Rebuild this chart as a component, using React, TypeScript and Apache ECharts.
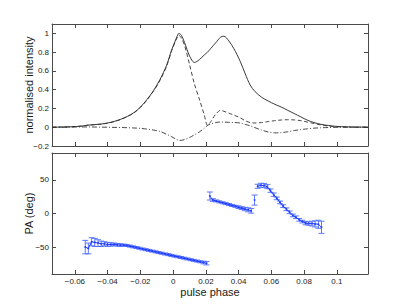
import React, { useEffect, useRef } from "react";
import * as echarts from "echarts";

// ---- Top panel: intensity profiles ----
const profilePhase = [
  -0.074, -0.068, -0.062, -0.056, -0.052, -0.048, -0.044, -0.04, -0.036, -0.032, -0.028, -0.024,
  -0.02, -0.016, -0.012, -0.008, -0.004, -0.001, 0.002, 0.0035, 0.005, 0.007, 0.01, 0.013, 0.016,
  0.019, 0.021, 0.023, 0.026, 0.029, 0.031, 0.034, 0.037, 0.041, 0.044, 0.047, 0.05, 0.054, 0.058,
  0.062, 0.066, 0.07, 0.074, 0.078, 0.082, 0.086, 0.09, 0.095, 0.1, 0.106, 0.112, 0.119,
];
const totalIntensity = [
  0, 0.002, 0.005, 0.012, 0.022, 0.028, 0.034, 0.045, 0.062, 0.085, 0.115, 0.155,
  0.215, 0.295, 0.39, 0.51, 0.66, 0.82, 0.95, 1.0, 0.98, 0.9, 0.76, 0.69, 0.72,
  0.77, 0.8, 0.84, 0.9, 0.96, 0.97, 0.92, 0.84, 0.7, 0.57, 0.45, 0.38, 0.32, 0.28,
  0.245, 0.215, 0.18, 0.145, 0.11, 0.075, 0.05, 0.032, 0.018, 0.009, 0.004, 0.002, 0.001,
];
const linearIntensity = [
  0, 0.002, 0.005, 0.012, 0.022, 0.027, 0.033, 0.044, 0.06, 0.083, 0.113, 0.152,
  0.21, 0.29, 0.385, 0.5, 0.65, 0.81, 0.94, 0.98, 0.95, 0.87, 0.67, 0.46, 0.3,
  0.13, 0.02, 0.06, 0.14, 0.18, 0.17, 0.15, 0.13, 0.1, 0.07, 0.05, 0.045, 0.05, 0.06,
  0.07, 0.077, 0.08, 0.078, 0.07, 0.055, 0.04, 0.025, 0.012, 0.005, 0.002, 0.001, 0,
];
const circularIntensity = [
  0, 0, 0.002, 0.003, 0.003, 0.002, 0.001, 0, -0.002, -0.003, -0.005, -0.008,
  -0.012, -0.02, -0.03, -0.045, -0.075, -0.1, -0.13, -0.14, -0.14, -0.13, -0.11, -0.08, -0.05,
  -0.01, 0.02, 0.035, 0.05, 0.055, 0.055, 0.052, 0.05, 0.045, 0.03, 0.015, -0.005, -0.03, -0.05,
  -0.06, -0.058, -0.048, -0.035, -0.025, -0.017, -0.01, -0.006, -0.003, -0.001, 0, 0, 0,
];

// ---- Bottom panel: position angle ----
const paPhase = [
  -0.0537, -0.0518, -0.0498, -0.0479, -0.0459, -0.044, -0.042, -0.0401, -0.0381, -0.0362,
  -0.0342, -0.0323, -0.0303, -0.0284, -0.0264, -0.0245, -0.0225, -0.0206, -0.0186, -0.0167,
  -0.0147, -0.0128, -0.0108, -0.0089, -0.0069, -0.005, -0.003, -0.0011, 0.0009, 0.0029,
  0.0048, 0.0068, 0.0087, 0.0107, 0.0126, 0.0146, 0.0165, 0.0185, 0.0204,
  0.0224, 0.0243, 0.0263, 0.0282, 0.0302, 0.0321, 0.0341, 0.036, 0.038, 0.0399, 0.0419,
  0.0438, 0.0458, 0.0477,
  0.0497,
  0.0516, 0.0536, 0.0555, 0.0575, 0.0594, 0.0614, 0.0633, 0.0653, 0.0672, 0.0692, 0.0711,
  0.0731, 0.075, 0.077, 0.0789, 0.0809, 0.0828, 0.0848, 0.0867, 0.0887, 0.0906,
];
const paDeg = [
  -50, -52, -42, -43, -44, -45, -45, -46, -46, -46,
  -46.5, -47, -47, -47.5, -48.5, -49.6, -50.6, -51.7, -52.8, -53.8,
  -54.9, -55.9, -57, -58.1, -59.1, -60.2, -61.2, -62.3, -63.4, -64.4,
  -65.5, -66.5, -67.6, -68.7, -69.7, -70.8, -71.8, -72.9, -74,
  26, 20, 18.7, 17.3, 16, 14.7, 13.3, 12, 10.7, 9.4, 8,
  6.7, 5.5, 4,
  20,
  40.5, 42, 41.5, 40, 34, 28, 22.5, 16.5, 11, 6.3, 1.8,
  -2.9, -5.6, -9.4, -12, -14.3, -15, -15, -15.5, -16, -20.5,
];
const paErr = [
  10, 8, 6, 6, 5, 4, 3, 3, 2.5, 2,
  2, 2, 1.5, 1.5, 1.5, 1.5, 1.5, 1.5, 1.5, 1.5,
  1.5, 1.5, 1.5, 1.5, 1.5, 1.5, 1.5, 1.5, 1.5, 1.5,
  1.5, 1.5, 1.5, 1.5, 1.5, 1.5, 1.5, 2, 2.5,
  6, 2, 1.5, 1.5, 1.5, 1.5, 1.5, 1.5, 1.5, 2, 2,
  2.5, 3, 3.5,
  7.5,
  3, 3, 3, 3, 2.5, 2.5, 2, 2, 2, 2, 2,
  2, 2, 2, 2, 2.5, 2.5, 3.5, 4.5, 6, 9,
];
const paSegmentStarts = [0, 39, 53, 54];

// ---- Axes ----
const phaseMin = -0.074;
const phaseMax = 0.119;
const phaseTicks = [-0.06, -0.04, -0.02, 0, 0.02, 0.04, 0.06, 0.08, 0.1];
const phaseTickLabels = ["\u22120.06", "\u22120.04", "\u22120.02", "0", "0.02", "0.04", "0.06", "0.08", "0.1"];
const intensityTicks = [-0.2, 0, 0.2, 0.4, 0.6, 0.8, 1];
const intensityTickLabels = ["\u22120.2", "0", "0.2", "0.4", "0.6", "0.8", "1"];
const paTicks = [-50, 0, 50];
const paTickLabels = ["\u221250", "0", "50"];

const FONT = "'Liberation Sans', Arial, Helvetica, sans-serif";
const AXIS_COLOR = "#4a4a4a";
const TEXT_COLOR = "#1a1a1a";
const PA_LINE = "#1f3cff";
const PA_BAR = "#4d6bff";

function labelFor(values: number[], labels: string[]) {
  return (v: number) => {
    let best = -1;
    let d = Infinity;
    values.forEach((t, i) => {
      const dd = Math.abs(t - v);
      if (dd < d) {
        d = dd;
        best = i;
      }
    });
    return d < 1e-6 ? labels[best] : "";
  };
}

function makeAxis(
  gridIndex: number,
  position: string,
  min: number,
  max: number,
  ticks: number[],
  labels: string[] | null,
  extra: any = {}
) {
  return {
    type: "value",
    gridIndex,
    position,
    min,
    max,
    nameMoveOverlap: false,
    axisLine: { show: true, onZero: false, lineStyle: { color: AXIS_COLOR, width: 1 } },
    axisTick: { show: true, inside: true, length: 4, customValues: ticks, lineStyle: { color: AXIS_COLOR, width: 1 } },
    axisLabel: labels
      ? {
          show: true,
          customValues: ticks,
          formatter: labelFor(ticks, labels),
          fontFamily: FONT,
          fontSize: 8,
          color: TEXT_COLOR,
          margin: 3,
        }
      : { show: false },
    splitLine: { show: false },
    ...extra,
  };
}

export default function App() {
  const ref = useRef<HTMLDivElement>(null);

  useEffect(() => {
    if (!ref.current) return;
    const chart = echarts.init(ref.current, null, { renderer: "svg" });

    const nameStyle = { fontFamily: FONT, fontSize: 11, color: TEXT_COLOR };

    const profileData = (vals: number[]) => profilePhase.map((x, i) => [x, vals[i]]);

    const segSeries: any[] = paSegmentStarts.map((start, k) => {
      const end = k + 1 < paSegmentStarts.length ? paSegmentStarts[k + 1] : paPhase.length;
      const data: number[][] = [];
      for (let i = start; i < end; i++) data.push([paPhase[i], paDeg[i]]);
      return {
        type: "line",
        xAxisIndex: 2,
        yAxisIndex: 2,
        data,
        showSymbol: true,
        symbol: "circle",
        symbolSize: 1.8,
        itemStyle: { color: PA_LINE },
        lineStyle: { color: PA_LINE, width: 1 },
        silent: true,
        z: 3,
      };
    });

    const errData = paPhase.map((x, i) => [x, paDeg[i] - paErr[i], paDeg[i] + paErr[i]]);

    const option: any = {
      animation: false,
      grid: [
        { left: 52, right: 39, top: 24, height: 122 },
        { left: 52, right: 39, top: 153, height: 121 },
      ],
      xAxis: [
        makeAxis(0, "bottom", phaseMin, phaseMax, phaseTicks, null),
        makeAxis(0, "top", phaseMin, phaseMax, phaseTicks, null),
        makeAxis(1, "bottom", phaseMin, phaseMax, phaseTicks, phaseTickLabels, {
          name: "pulse phase",
          nameLocation: "middle",
          nameGap: 12,
          nameTextStyle: nameStyle,
        }),
        makeAxis(1, "top", phaseMin, phaseMax, phaseTicks, null),
      ],
      yAxis: [
        makeAxis(0, "left", -0.2, 1.1, intensityTicks, intensityTickLabels, {
          name: "normalised intensity",
          nameLocation: "middle",
          nameGap: 18,
          nameRotate: 90,
          nameTextStyle: nameStyle,
        }),
        makeAxis(0, "right", -0.2, 1.1, intensityTicks, null),
        makeAxis(1, "left", -90, 90, paTicks, paTickLabels, {
          name: "PA (deg)",
          nameLocation: "middle",
          nameGap: 18,
          nameRotate: 90,
          nameTextStyle: nameStyle,
        }),
        makeAxis(1, "right", -90, 90, paTicks, null),
      ],
      series: [
        {
          type: "line",
          xAxisIndex: 0,
          yAxisIndex: 0,
          data: profileData(totalIntensity),
          smooth: 0.3,
          showSymbol: false,
          lineStyle: { color: "#222", width: 0.9, type: "solid" },
          silent: true,
        },
        {
          type: "line",
          xAxisIndex: 0,
          yAxisIndex: 0,
          data: profileData(linearIntensity),
          smooth: 0.3,
          showSymbol: false,
          lineStyle: { color: "#333", width: 0.9, type: [4, 2.5] },
          silent: true,
        },
        {
          type: "line",
          xAxisIndex: 0,
          yAxisIndex: 0,
          data: profileData(circularIntensity),
          smooth: 0.3,
          showSymbol: false,
          lineStyle: { color: "#333", width: 0.9, type: [5, 2, 1, 2] },
          silent: true,
        },
        {
          type: "custom",
          xAxisIndex: 2,
          yAxisIndex: 2,
          data: errData,
          encode: { x: 0, y: [1, 2] },
          silent: true,
          z: 2,
          renderItem: (params: any, api: any) => {
            const x = api.value(0);
            const lo = api.coord([x, api.value(1)]);
            const hi = api.coord([x, api.value(2)]);
            const w = 3;
            const style = { stroke: PA_BAR, lineWidth: 0.9 };
            return {
              type: "group",
              children: [
                { type: "line", shape: { x1: lo[0], y1: lo[1], x2: hi[0], y2: hi[1] }, style },
                { type: "line", shape: { x1: lo[0] - w, y1: lo[1], x2: lo[0] + w, y2: lo[1] }, style },
                { type: "line", shape: { x1: hi[0] - w, y1: hi[1], x2: hi[0] + w, y2: hi[1] }, style },
              ],
            };
          },
        },
        ...segSeries,
      ],
    };

    chart.setOption(option);
    return () => chart.dispose();
  }, []);

  return (
    <div
      ref={ref}
      style={{ position: "absolute", left: 0, top: 0, width: 407, height: 306, background: "#fff" }}
    />
  );
}
